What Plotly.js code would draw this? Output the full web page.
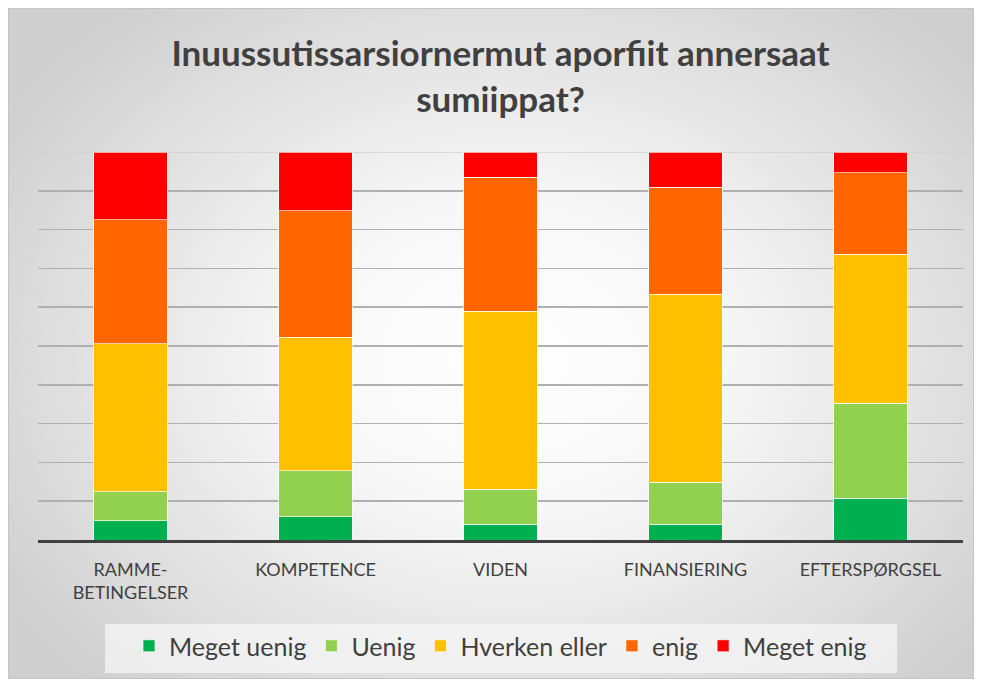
<!DOCTYPE html>
<html>
<head>
<meta charset="utf-8">
<script src="https://cdn.plot.ly/plotly-3.0.1.min.js"></script>
<style>
  html, body { margin: 0; padding: 0; background: #ffffff; }
  #wrap { position: relative; width: 981px; height: 684px; overflow: hidden; background: #ffffff; }
  #frame {
    position: absolute; left: 8px; top: 8px; width: 966px; height: 671px;
    border: 1px solid #c4c4c4; box-sizing: border-box;
    background: radial-gradient(ellipse 62% 68% at 52% 52%, #ffffff 0%, #f7f7f7 35%, #e2e2e2 70%, #cfcfcf 100%);
  }
  #chart { position: absolute; left: 0; top: 0; width: 981px; height: 684px; }
</style>
</head>
<body>
<div id="wrap">
  <div id="frame"></div>
  <div id="chart"></div>
</div>
<script>
const categories = ["RAMME-<br>BETINGELSER", "KOMPETENCE", "VIDEN", "FINANSIERING", "EFTERSPØRGSEL"];
const seriesNames = ["Meget uenig", "Uenig", "Hverken eller", "enig", "Meget enig"];
const megetUenig   = [5.0, 6.0, 4.0, 4.0, 10.8];
const uenig        = [7.5, 11.8, 9.1, 10.9, 24.4];
const hverkenEller = [38.1, 34.5, 45.9, 48.5, 38.4];
const enig         = [32.0, 32.5, 34.5, 27.5, 21.0];
const megetEnig    = [17.4, 15.2, 6.5, 9.1, 5.4];
const colors = ["#00b050", "#92d050", "#ffc000", "#ff6600", "#ff0000"];

const values = [megetUenig, uenig, hverkenEller, enig, megetEnig];
const traces = values.map((v, i) => ({
  type: "bar",
  name: seriesNames[i],
  x: categories,
  y: v,
  marker: { color: colors[i], line: { color: "rgba(255,255,255,0.65)", width: 1 } },
  hoverinfo: "x+y+name"
}));

const layout = {
  width: 981, height: 684,
  paper_bgcolor: "rgba(0,0,0,0)",
  plot_bgcolor: "rgba(0,0,0,0)",
  margin: { l: 38, r: 18, t: 152, b: 144, pad: 0, autoexpand: false },
  barmode: "stack",
  bargap: 0.605,
  font: { family: "Lato, 'Open Sans', sans-serif", color: "#595959" },
  title: {
    text: "<b>Inuussutissarsiornermut aporfiit annersaat<br>sumiippat?</b>",
    font: { family: "Lato, 'Open Sans', sans-serif", size: 35, color: "#404040" },
    x: 0.5, xref: "paper", xanchor: "center",
    y: 0.903, yref: "container", yanchor: "top"
  },
  xaxis: {
    showgrid: false,
    showline: true, linecolor: "#404040", linewidth: 3,
    ticks: "outside", ticklen: 11, tickcolor: "rgba(0,0,0,0)",
    tickfont: { size: 18, color: "#404040" },
    fixedrange: true
  },
  yaxis: {
    range: [0, 100], dtick: 10,
    showgrid: true, gridcolor: "#b0b0b0", gridwidth: 1.5,
    showticklabels: false, zeroline: false, showline: false,
    fixedrange: true
  },
  showlegend: true,
  legend: {
    orientation: "h",
    x: 0.5, xanchor: "center",
    y: -0.214, yanchor: "top",
    bgcolor: "rgba(0,0,0,0)",
    font: { size: 25, color: "#404040" },
    traceorder: "normal"
  },
  shapes: [
    {
      type: "rect", xref: "paper", yref: "paper", layer: "below",
      x0: (105 - 38) / 925, x1: (897 - 38) / 925,
      y0: (540 - 673) / 388, y1: (540 - 624) / 388,
      fillcolor: "rgba(245,245,245,0.75)", line: { width: 0 }
    },
    {
      type: "line", xref: "paper", yref: "y", layer: "below",
      x0: 0, x1: 1, y0: 100, y1: 100,
      line: { color: "#d0d0d0", width: 1.5 }
    }
  ]
};

Plotly.newPlot("chart", traces, layout, { displayModeBar: false, staticPlot: true });
</script>
</body>
</html>
